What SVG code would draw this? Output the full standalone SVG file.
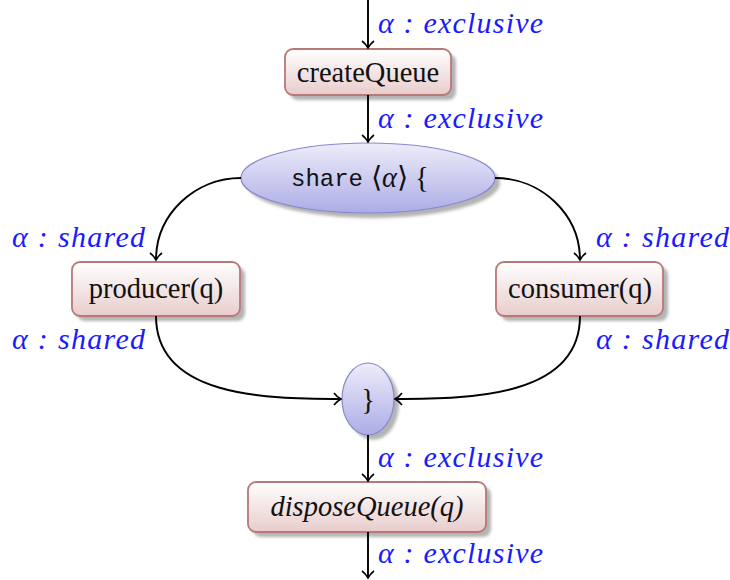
<svg xmlns="http://www.w3.org/2000/svg" width="730" height="580" viewBox="0 0 730 580">
<style>
.edge{fill:none;stroke:#000;stroke-width:1.9}
.box{stroke:#b87878;stroke-width:1.8;fill:url(#boxg)}
.ell{stroke:#8888cc;stroke-width:1.2;fill:url(#ellg)}
.shadow{fill:#b4b4b4;filter:url(#blur)}
.lbl{font-family:"Liberation Serif","Times New Roman",serif;font-style:italic;font-size:30px;fill:#1a1aff}
.txt{font-family:"Liberation Serif","Times New Roman",serif;font-size:28.5px;fill:#111}
</style>
<defs>
<linearGradient id="boxg" x1="0" y1="0" x2="0" y2="1"><stop offset="0" stop-color="#ffffff"/><stop offset="1" stop-color="#e8cccc"/></linearGradient>
<linearGradient id="ellg" x1="0" y1="0" x2="0" y2="1"><stop offset="0" stop-color="#ededfa"/><stop offset="1" stop-color="#acace6"/></linearGradient>
<filter id="blur" x="-10%" y="-10%" width="120%" height="130%"><feGaussianBlur stdDeviation="1.5"/></filter>
<marker id="arr" markerUnits="userSpaceOnUse" markerWidth="16" markerHeight="16" viewBox="-10 -8 12 16" refX="0" refY="0" orient="auto">
<path d="M-7,-6 C-4,-2 -1,-0.6 0,0 C-1,0.6 -4,2 -7,6" fill="none" stroke="#000" stroke-width="1.6"/>
</marker>
</defs>

<g id="createQueue">
<rect class="shadow" x="290" y="54" width="166" height="46" rx="8"/>
<rect class="box" x="285" y="49" width="166" height="46" rx="8"/>
<text class="txt" x="368" y="82" text-anchor="middle">createQueue</text>
</g>

<g id="share">
<ellipse class="shadow" cx="373" cy="183" rx="127" ry="35"/>
<ellipse class="ell" cx="368" cy="178" rx="127" ry="35"/>
<text x="291" y="186" font-family="'Liberation Mono',monospace" font-size="24" fill="#111">share</text>
<text class="txt" x="371" y="187">⟨<tspan font-style="italic">α</tspan>⟩ {</text>
</g>

<g id="producer">
<rect class="shadow" x="77" y="267" width="168" height="54" rx="8"/>
<rect class="box" x="72" y="262" width="168" height="54" rx="8"/>
<text class="txt" x="156" y="298" text-anchor="middle">producer(q)</text>
</g>

<g id="consumer">
<rect class="shadow" x="501" y="267" width="167" height="54" rx="8"/>
<rect class="box" x="496" y="262" width="167" height="54" rx="8"/>
<text class="txt" x="580" y="298" text-anchor="middle">consumer(q)</text>
</g>

<g id="join">
<ellipse class="shadow" cx="373" cy="404" rx="26" ry="36"/>
<ellipse class="ell" cx="368" cy="399" rx="26" ry="36"/>
<text class="txt" x="368" y="409" text-anchor="middle">}</text>
</g>

<g id="disposeQueue">
<rect class="shadow" x="253" y="487" width="238" height="50" rx="8"/>
<rect class="box" x="248" y="482" width="238" height="50" rx="8"/>
<text class="txt" x="367" y="516" text-anchor="middle" font-style="italic">disposeQueue(q)</text>
</g>

<g id="connectors">
<path class="edge" marker-end="url(#arr)" d="M368,0 L368,48"/>
<path class="edge" marker-end="url(#arr)" d="M368,95 L368,142"/>
<path class="edge" marker-end="url(#arr)" d="M241,178 C195,178 156,214 156,260"/>
<path class="edge" marker-end="url(#arr)" d="M495,178 C541,178 580,214 580,260"/>
<path class="edge" marker-end="url(#arr)" d="M156,316 C156,396 262,399 341,399"/>
<path class="edge" marker-end="url(#arr)" d="M580,316 C580,396 474,399 395,399"/>
<path class="edge" marker-end="url(#arr)" d="M368,435 L368,481"/>
<path class="edge" marker-end="url(#arr)" d="M368,532 L368,578"/>
</g>

<g id="labels">
<text class="lbl" x="378" y="33" textLength="165" lengthAdjust="spacing">α : exclusive</text>
<text class="lbl" x="378" y="128" textLength="165" lengthAdjust="spacing">α : exclusive</text>
<text class="lbl" x="12" y="247" textLength="133" lengthAdjust="spacing">α : shared</text>
<text class="lbl" x="596" y="247" textLength="133" lengthAdjust="spacing">α : shared</text>
<text class="lbl" x="12" y="349" textLength="133" lengthAdjust="spacing">α : shared</text>
<text class="lbl" x="596" y="349" textLength="133" lengthAdjust="spacing">α : shared</text>
<text class="lbl" x="378" y="467" textLength="165" lengthAdjust="spacing">α : exclusive</text>
<text class="lbl" x="378" y="563" textLength="165" lengthAdjust="spacing">α : exclusive</text>
</g>
</svg>
